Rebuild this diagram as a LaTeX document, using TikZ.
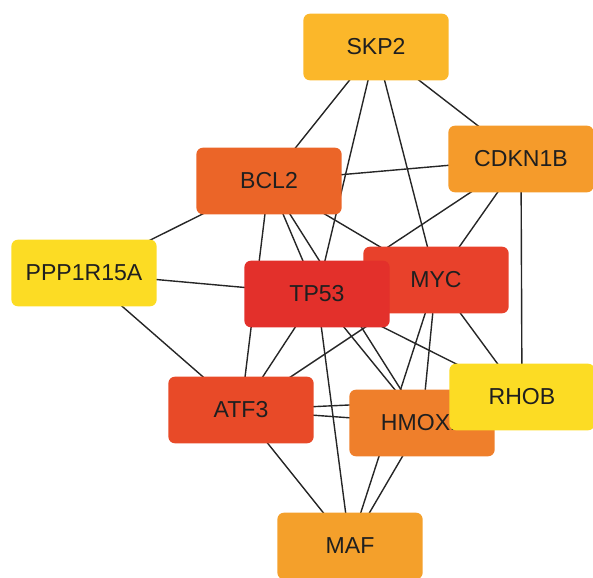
\documentclass[tikz,border=0pt]{standalone}
\usepackage{fontspec}
\setmainfont{Liberation Sans}
\usetikzlibrary{backgrounds}
\definecolor{hubred}{HTML}{E3302B}
\definecolor{hubmyc}{HTML}{E8412B}
\definecolor{hubatf}{HTML}{E84A28}
\definecolor{hubbcl}{HTML}{EB6528}
\definecolor{hubhmox}{HTML}{EF7F2B}
\definecolor{hubmaf}{HTML}{F4A02B}
\definecolor{hubcdk}{HTML}{F59B2B}
\definecolor{hubskp}{HTML}{FBB72A}
\definecolor{hubyel}{HTML}{FCDC24}
\definecolor{edgegray}{HTML}{262626}

\begin{document}
\begin{tikzpicture}[x=0.75pt, y=-0.75pt,
    gene/.style={rectangle, rounded corners=5pt, minimum width=109pt,
      minimum height=50pt, text=black!88, font=\fontsize{17.3}{20}\selectfont},
    link/.style={draw=edgegray, line width=1.05pt}]
  \useasboundingbox (0,0) rectangle (593,578);

  % outer ring
  \node[gene, fill=hubskp] (skp2) at (376,47) {SKP2};
  \node[gene, fill=hubcdk] (cdkn1b) at (521,159) {CDKN1B};
  \node[gene, fill=hubbcl] (bcl2) at (269,181) {BCL2};
  \node[gene, fill=hubyel] (ppp1r15a) at (84,273) {PPP1R15A};

  % hubs (TP53 sits over MYC)
  \node[gene, fill=hubmyc] (myc) at (436,280) {MYC};
  \node[gene, fill=hubred] (tp53) at (317,294) {TP53};

  % lower row (RHOB sits over HMOX1)
  \node[gene, fill=hubatf] (atf3) at (241,410) {ATF3};
  \node[gene, fill=hubhmox] (hmox1) at (422,423) {HMOX1};
  \node[gene, fill=hubyel] (rhob) at (522,397) {RHOB};
  \node[gene, fill=hubmaf] (maf) at (350,546) {MAF};

  % edges
  \begin{scope}[on background layer]
    \foreach \a/\b in {skp2/bcl2, skp2/tp53, skp2/myc, skp2/cdkn1b,
        cdkn1b/bcl2, cdkn1b/tp53, cdkn1b/myc, cdkn1b/rhob,
        bcl2/ppp1r15a, bcl2/atf3, bcl2/tp53, bcl2/hmox1, bcl2/myc,
        ppp1r15a/tp53, ppp1r15a/atf3,
        tp53/atf3, tp53/maf, tp53/hmox1, tp53/rhob,
        myc/maf, myc/hmox1, myc/atf3, myc/rhob,
        atf3/hmox1, atf3/rhob, atf3/maf, hmox1/maf}
      \draw[link] (\a.center) -- (\b.center);
  \end{scope}
\end{tikzpicture}
\end{document}
